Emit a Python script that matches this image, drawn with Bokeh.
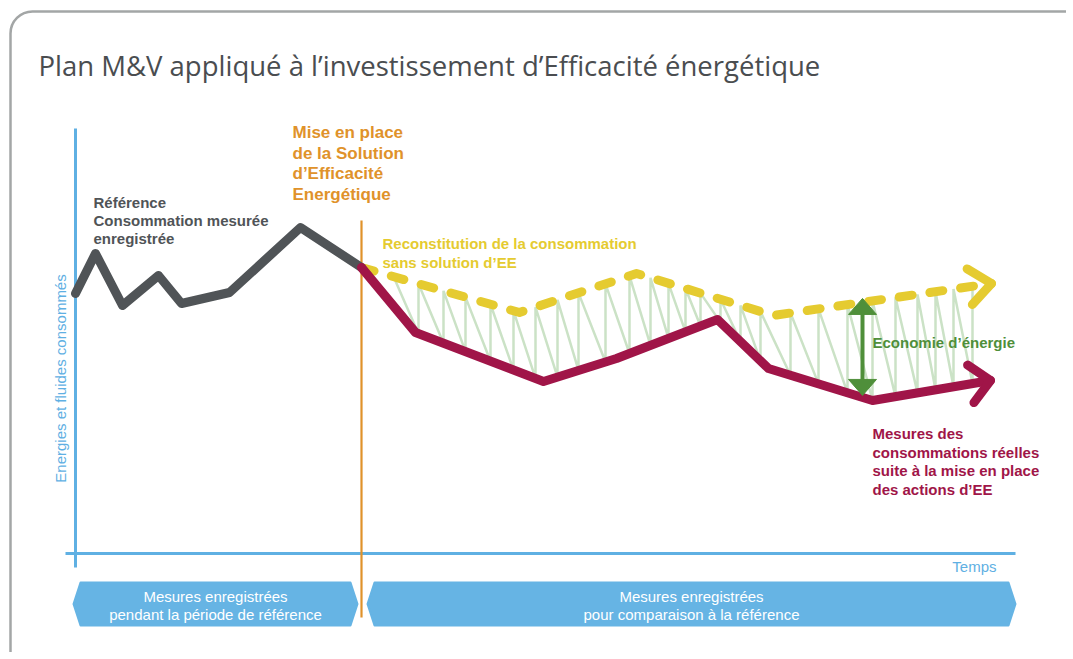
import math
import numpy as np
from bokeh.plotting import figure
from bokeh.models import Range1d, BoxAnnotation
from bokeh.core.properties import value
from bokeh.embed import file_html
from bokeh.resources import INLINE

# ---------------- data (arbitrary time / energy units) ----------------
ref_time = [75, 95, 122, 158, 181, 229, 300, 361]
ref_energy = [267, 307, 255, 285, 257, 268, 333, 293]

real_time = [361, 415, 543, 616, 717, 768, 872, 990]
real_energy = [293, 228, 179, 202, 241, 192, 160, 180]

recon_time = [361, 519, 636, 773, 991]
recon_energy = [293, 248, 287, 245, 277]

intervention_time = 361
saving_time = 862

hatch_time = [393, 418, 443, 465, 490, 513, 535, 557, 578, 605, 629, 650, 668,
              685, 700, 720, 740, 760, 790, 818, 847, 872, 895, 917, 935, 953, 972]

period_start = [73, 367]
period_end = [357, 1015]
period_labels = [["Mesures enregistrées", "pendant la période de référence"],
                 ["Mesures enregistrées", "pour comparaison à la référence"]]

title = "Plan M\u0026V appliqué à l\u2019investissement d\u2019Efficacité énergétique"
ref_label = ["Référence", "Consommation mesurée", "enregistrée"]
orange_label = ["Mise en place", "de la Solution", "d\u2019Efficacité", "Energétique"]
recon_label = ["Reconstitution de la consommation", "sans solution d\u2019EE"]
saving_label = "Economie d\u2019énergie"
real_label = ["Mesures des", "consommations réelles", "suite à la mise en place", "des actions d\u2019EE"]
y_label = "Energies et fluides consommés"
x_label = "Temps"

# ---------------- colours ----------------
GREY = "#505457"
RED = "#a01548"
YELLOW = "#e5cb30"
ORANGE = "#e0922a"
BLUE = "#5fb0e3"
BANNER = "#66b4e4"
GREEN = "#4f8f3a"
HATCH = "#cbe2c6"
TITLE = "#4a4d50"

W, H = 1066, 652
p = figure(width=W, height=H, output_backend="svg", toolbar_location=None,
           x_range=Range1d(0, W), y_range=Range1d(560 - H, 560),
           x_axis_type=None, y_axis_type=None, min_border=0,
           background_fill_color="white", border_fill_color="white")
p.outline_line_color = None
p.grid.visible = False

# frame box
p.add_layout(BoxAnnotation(left=10, right=1110, top=549, bottom=-200,
                           border_radius=22, fill_alpha=0, line_alpha=1.0,
                           line_color="#a3a6a6", line_width=2.5))

# title
p.text(x=[38], y=[495], text=[title], text_font=value("Open Sans"),
       text_font_size="27.5px", text_color=TITLE, text_baseline="alphabetic")

# axes lines
p.segment(x0=[75], y0=[432], x1=[75], y1=[-7], line_color=BLUE, line_width=3)
p.segment(x0=[65], y0=[7], x1=[1015], y1=[7], line_color=BLUE, line_width=3)

# intervention line
p.segment(x0=[intervention_time], y0=[340], x1=[intervention_time], y1=[-57],
          line_color=ORANGE, line_width=2.2)

# hatch zigzag between reconstituted and real consumption
top_y = np.interp(hatch_time, recon_time, recon_energy)
bot_y = np.interp(hatch_time, real_time, real_energy)
hx, hy = [hatch_time[0]], [top_y[0]]
for i in range(1, len(hatch_time)):
    hx += [hatch_time[i], hatch_time[i]]
    hy += [bot_y[i], top_y[i]]
p.line(hx, hy, line_color=HATCH, line_width=2.5)


def chevron(xs, ys, back, half):
    x1, y1 = xs[-1], ys[-1]
    x0, y0 = xs[-2], ys[-2]
    L = math.hypot(x1 - x0, y1 - y0)
    ux, uy = (x1 - x0) / L, (y1 - y0) / L
    nx, ny = -uy, ux
    return ([x1 - back * ux + half * nx, x1, x1 - back * ux - half * nx],
            [y1 - back * uy + half * ny, y1, y1 - back * uy - half * ny])


# reconstituted (dashed yellow)
p.line(recon_time, recon_energy, line_color=YELLOW, line_width=9,
       line_dash="13 18", line_cap="round", line_join="round")
cx, cy = chevron(recon_time, recon_energy, 22, 18)
p.line(cx, cy, line_color=YELLOW, line_width=9, line_cap="round", line_join="round")

# reference (grey)
p.line(ref_time, ref_energy, line_color=GREY, line_width=9,
       line_cap="round", line_join="round")

# real (red)
p.line(real_time, real_energy, line_color=RED, line_width=9,
       line_cap="round", line_join="round")
cx, cy = chevron(real_time, real_energy, 20, 19)
p.line(cx, cy, line_color=RED, line_width=9, line_cap="round", line_join="round")

# savings double arrow
s_top = float(np.interp(saving_time, recon_time, recon_energy)) + 4
s_bot = float(np.interp(saving_time, real_time, real_energy)) + 2
p.segment(x0=[saving_time], y0=[s_top - 10], x1=[saving_time], y1=[s_bot + 10],
          line_color=GREEN, line_width=4)
p.patches(xs=[[saving_time - 14, saving_time, saving_time + 14],
              [saving_time - 14, saving_time, saving_time + 14]],
          ys=[[s_top - 16, s_top, s_top - 16], [s_bot + 16, s_bot, s_bot + 16]],
          fill_color=GREEN, line_color=GREEN, line_width=1)

# labels
BOLD = dict(text_font=value("Liberation Sans"), text_font_style="bold",
            text_baseline="middle", text_align="left")


def block(lines, x, y0, step, size, color):
    p.text(x=[x] * len(lines), y=[y0 - i * step for i in range(len(lines))],
           text=lines, text_font_size=size, text_color=color, **BOLD)


block(ref_label, 93, 358, 18, "15px", GREY)
block(orange_label, 292, 428, 20.5, "17px", ORANGE)
block(recon_label, 382, 317, 19, "15px", YELLOW)
block([saving_label], 872, 218, 18, "15px", GREEN)
block(real_label, 872, 127, 18.5, "15px", RED)

REG = dict(text_font=value("Liberation Sans"), text_baseline="middle")
p.text(x=[60], y=[182], text=[y_label], angle=math.pi / 2, text_align="center",
       text_font_size="15px", text_color=BLUE, **REG)
p.text(x=[996], y=[-6], text=[x_label], text_align="right",
       text_font_size="15px", text_color=BLUE, **REG)

# period banners
b_top, b_bot = -22, -65
b_mid = (b_top + b_bot) / 2
bxs, bys = [], []
for s, e in zip(period_start, period_end):
    bxs.append([s + 7, e - 7, e, e - 7, s + 7, s])
    bys.append([b_top, b_top, b_mid, b_bot, b_bot, b_mid])
p.patches(xs=bxs, ys=bys, fill_color=BANNER, line_color=BANNER, line_width=2,
          line_join="round")
for s, e, lines in zip(period_start, period_end, period_labels):
    cxm = (s + e) / 2
    p.text(x=[cxm, cxm], y=[-36, -54], text=lines, text_align="center",
           text_font_size="15px", text_color="white", **REG)

open("out.html", "w").write(file_html(p, INLINE))
